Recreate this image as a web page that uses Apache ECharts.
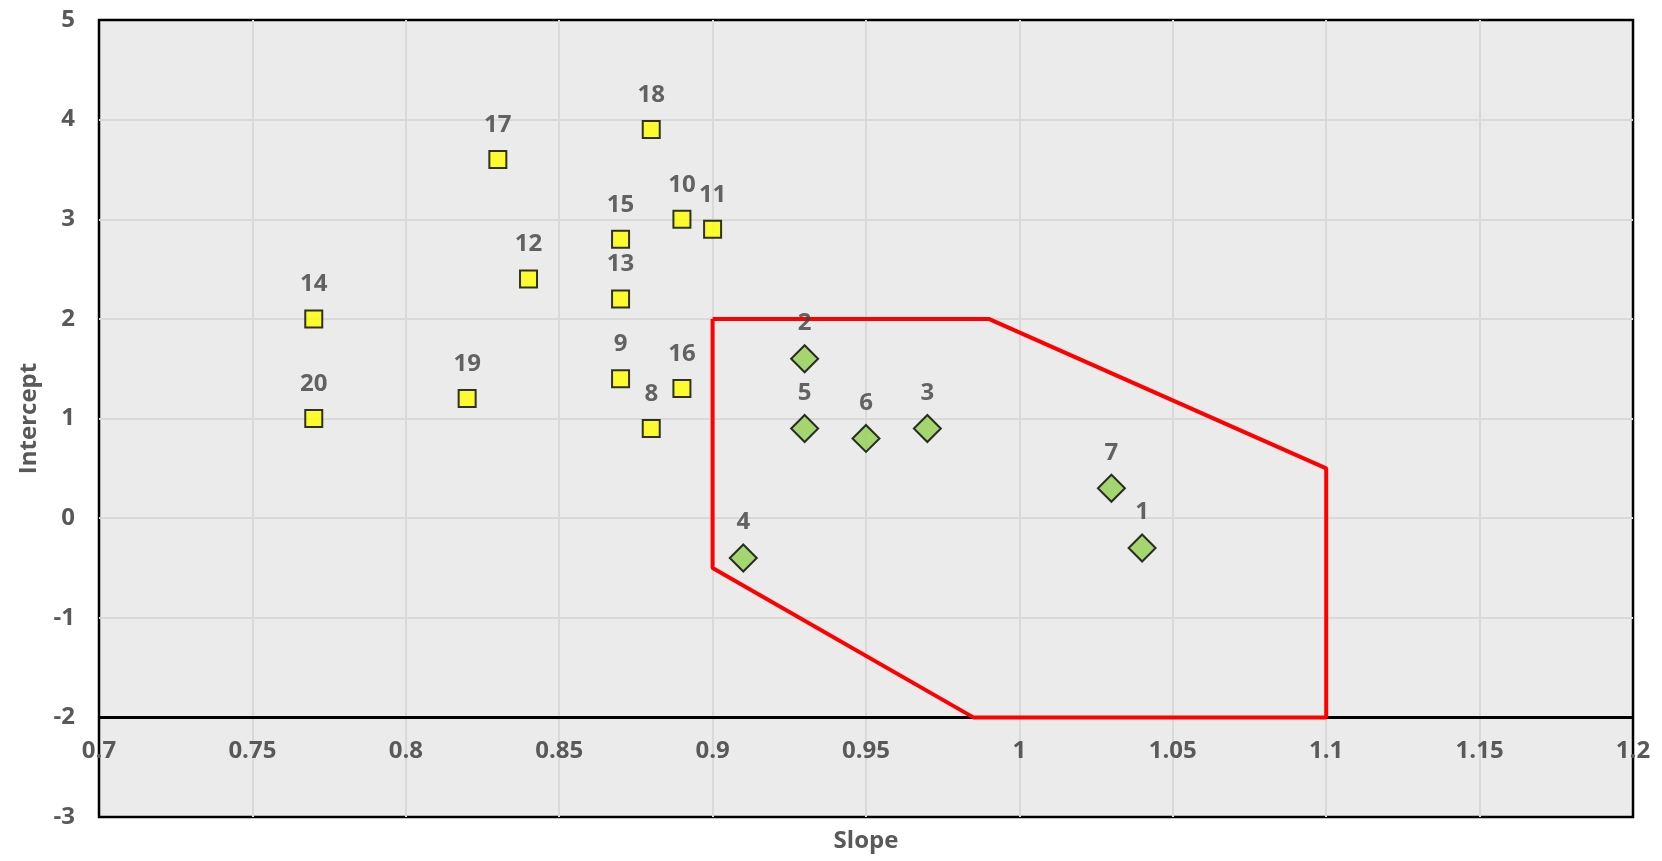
<!DOCTYPE html>
<html><head><meta charset="utf-8">
<script src="https://cdn.jsdelivr.net/npm/echarts@6/dist/echarts.min.js"></script>
<style>html,body{margin:0;padding:0;background:#fff}#c{width:1662px;height:861px}</style>
</head><body><div id="c"></div>
<script>
// Yellow squares (outside region)
const yellowIds = ['14','20','19','17','12','15','13','9','18','8','10','16','11'];
const yellowSlope = [0.77, 0.77, 0.82, 0.83, 0.84, 0.87, 0.87, 0.87, 0.88, 0.88, 0.89, 0.89, 0.90];
const yellowIntercept = [2.0, 1.0, 1.2, 3.6, 2.4, 2.8, 2.2, 1.4, 3.9, 0.9, 3.0, 1.3, 2.9];
// Green diamonds (inside region)
const greenIds = ['2','5','6','3','4','7','1'];
const greenSlope = [0.93, 0.93, 0.95, 0.97, 0.91, 1.03, 1.04];
const greenIntercept = [1.6, 0.9, 0.8, 0.9, -0.4, 0.3, -0.3];
// Red acceptance region polygon
const regionSlope = [0.9, 0.99, 1.1, 1.1, 0.985, 0.9, 0.9];
const regionIntercept = [2, 2, 0.5, -2, -2, -0.5, 2];
// Axis ticks
const xMin = 0.7, xMax = 1.2, xStep = 0.05;
const yMin = -3, yMax = 5, yStep = 1;
const crossY = -2;

const font = '"Open Sans", "Liberation Sans", sans-serif';
const pts = (xs, ys, ids) => xs.map((x, i) => ids ? {value: [x, ys[i]], name: ids[i]} : [x, ys[i]]);

const chart = echarts.init(document.getElementById('c'));
chart.setOption({
  animation: false,
  grid: {left: 99, right: 29, top: 20, bottom: 44, show: true, backgroundColor: '#EBEBEB', borderColor: '#000', borderWidth: 2.5},
  xAxis: {
    type: 'value', min: xMin, max: xMax, interval: xStep,
    axisLine: {show: false}, axisTick: {show: false},
    splitLine: {show: true, showMinLine: false, showMaxLine: false, lineStyle: {color: '#D9D9D9', width: 2}},
    axisLabel: {margin: -78, color: '#595959', fontSize: 24, fontWeight: 'bold', fontFamily: font,
      showMinLabel: true, showMaxLabel: true, formatter: v => String(+v.toFixed(2))},
    name: 'Slope', nameLocation: 'middle', nameGap: 12,
    nameTextStyle: {color: '#595959', fontSize: 24, fontWeight: 'bold', fontFamily: font}
  },
  yAxis: {
    type: 'value', min: yMin, max: yMax, interval: yStep,
    axisLine: {show: false}, axisTick: {show: false},
    splitLine: {show: true, showMinLine: false, showMaxLine: false, lineStyle: {color: '#D9D9D9', width: 2}},
    axisLabel: {margin: 24, color: '#595959', fontSize: 24, fontWeight: 'bold', fontFamily: font},
    name: 'Intercept', nameLocation: 'middle', nameGap: 58, nameRotate: 90,
    nameTextStyle: {color: '#595959', fontSize: 24, fontWeight: 'bold', fontFamily: font}
  },
  series: [
    {type: 'line', data: [[xMin, crossY], [xMax, crossY]], symbol: 'none', silent: true,
      lineStyle: {color: '#000', width: 3}, z: 1},
    {type: 'line', data: pts(regionSlope, regionIntercept), symbol: 'none', silent: true,
      lineStyle: {color: '#FF0000', width: 4}, z: 2},
    {type: 'scatter', data: pts(yellowSlope, yellowIntercept, yellowIds), symbol: 'rect', symbolSize: 17,
      itemStyle: {color: '#FFFF00', borderColor: '#000', borderWidth: 2}, z: 3,
      label: {show: true, position: 'top', distance: 13, formatter: p => p.name,
        color: '#404040', fontSize: 24, fontWeight: 'bold', fontFamily: font}},
    {type: 'scatter', data: pts(greenSlope, greenIntercept, greenIds), symbol: 'diamond', symbolSize: 27,
      itemStyle: {color: '#92D050', borderColor: '#000', borderWidth: 2}, z: 3,
      label: {show: true, position: 'top', distance: 9, formatter: p => p.name,
        color: '#404040', fontSize: 24, fontWeight: 'bold', fontFamily: font}}
  ]
});
</script></body></html>
